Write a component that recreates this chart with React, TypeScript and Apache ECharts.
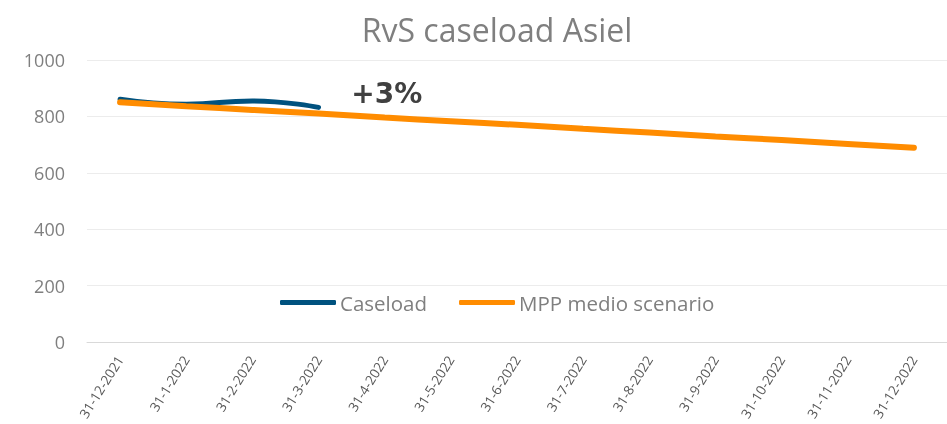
import React, { useEffect, useRef } from "react";
import * as echarts from "echarts";

const categories = [
  "31-12-2021", "31-1-2022", "31-2-2022", "31-3-2022", "31-4-2022", "31-5-2022",
  "31-6-2022", "31-7-2022", "31-8-2022", "31-9-2022", "31-10-2022", "31-11-2022", "31-12-2022",
];
const caseload = [861, 843, 855, 832, null, null, null, null, null, null, null, null, null];
const mppMedio = [850, 836, 823, 810, 796, 783, 770, 756, 743, 729, 716, 702, 689];
const yTicks = { min: 0, max: 1000, interval: 200 };
const annotation = "+3%";

export default function App() {
  const ref = useRef<HTMLDivElement>(null);
  useEffect(() => {
    const chart = echarts.init(ref.current!, null, { renderer: "svg" });
    chart.setOption({
      animation: false,
      title: {
        text: "RvS caseload Asiel",
        left: 492,
        textAlign: "center",
        top: 8,
        textStyle: { fontFamily: "Open Sans", fontSize: 32, fontWeight: "normal", color: "#7f7f7f" },
      },
      grid: { left: 87, right: -8, top: 60, bottom: 82, containLabel: false },
      legend: {
        left: 275,
        top: 287,
        itemWidth: 56,
        itemHeight: 5,
        itemGap: 32,
        icon: "roundRect",
        textStyle: { fontFamily: "Open Sans", fontSize: 20.5, color: "#7f7f7f", padding: [0, 0, 0, -1] },
        data: ["Caseload", "MPP medio scenario"],
      },
      xAxis: {
        type: "category",
        data: categories,
        boundaryGap: true,
        axisLine: { show: true, lineStyle: { color: "#d9d9d9", width: 1 } },
        axisTick: { show: false },
        axisLabel: {
          rotate: 58,
          interval: 0,
          margin: 15,
          fontFamily: "Open Sans",
          fontSize: 13.5,
          color: "#595959",
        },
      },
      yAxis: {
        type: "value",
        min: yTicks.min,
        max: yTicks.max,
        interval: yTicks.interval,
        axisLine: { show: false },
        axisTick: { show: false },
        splitLine: { lineStyle: { color: "#ececec", width: 1 } },
        axisLabel: {
          fontFamily: "Open Sans",
          fontSize: 18,
          color: "#7f7f7f",
          margin: 22,
          formatter: (v: number) => String(v),
        },
      },
      series: [
        {
          name: "Caseload",
          type: "line",
          data: caseload,
          smooth: true,
          showSymbol: false,
          lineStyle: { color: "#00527f", width: 5, cap: "round" },
          itemStyle: { color: "#00527f" },
          z: 3,
        },
        {
          name: "MPP medio scenario",
          type: "line",
          data: mppMedio,
          smooth: true,
          showSymbol: false,
          lineStyle: { color: "#ff8c00", width: 6, cap: "round" },
          itemStyle: { color: "#ff8c00" },
          z: 4,
          markPoint: {
            symbol: "rect",
            symbolSize: 1,
            itemStyle: { color: "transparent" },
            data: [{ coord: [categories[4], 880] }],
            label: {
              show: true,
              formatter: annotation,
              position: "inside",
              offset: [2, 0],
              fontFamily: "DejaVu Sans",
              fontSize: 28,
              fontWeight: "bold",
              color: "#404040",
            },
          },
        },
      ],
    });
    return () => chart.dispose();
  }, []);
  return <div ref={ref} style={{ position: "fixed", left: 0, top: 0, width: 947, height: 424 }} />;
}
